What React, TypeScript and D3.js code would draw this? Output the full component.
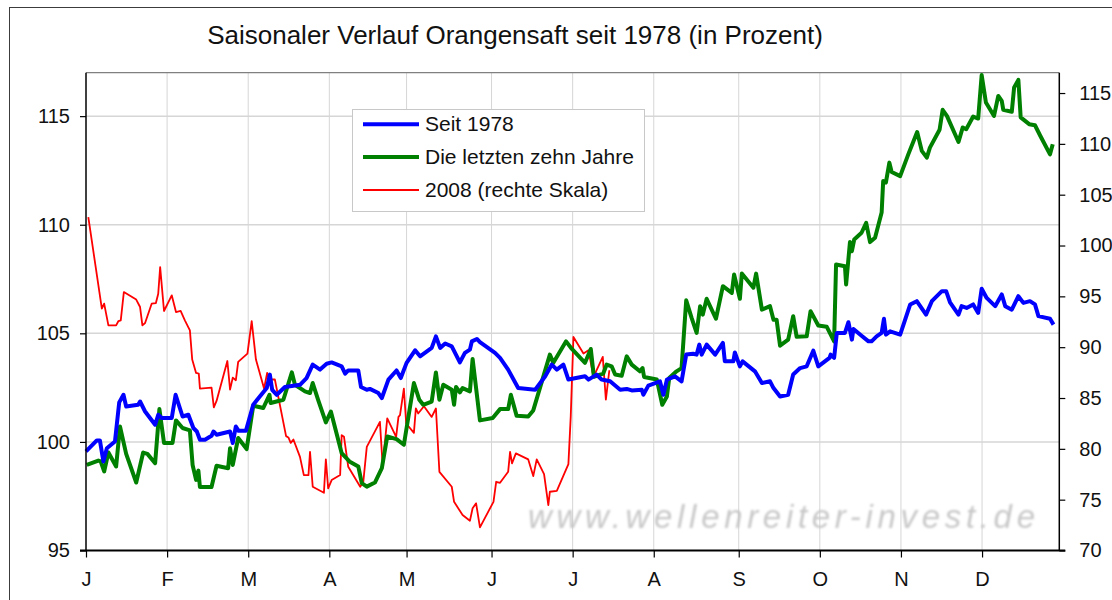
import { useEffect, useRef } from 'react';
import * as d3 from 'd3';

// Colors
const COLOR_SEIT = "#0000FF";
const COLOR_ZEHN = "#008000";
const COLOR_2008 = "#FF0000";
const COLOR_GRID = "#d6d6d6";
const FONT = "'Liberation Sans', Arial, sans-serif";

// Axis data
const MONTHS = ["J", "F", "M", "A", "M", "J", "J", "A", "S", "O", "N", "D"];
const MONTH_START = [0, 21, 42, 63, 83, 105, 126, 147, 169, 190, 211, 232];
const LAST_DAY = 252;
const LEFT_TICKS = [95, 100, 105, 110, 115];
const RIGHT_TICKS = [70, 75, 80, 85, 90, 95, 100, 105, 110, 115];

// Seit 1978 (left scale): [trading day, value]
const seit1978: [number, number][] = [
  [0, 99.56], [2.8, 100.07], [3.6, 100.07], [4.5, 99.1], [5.4, 99.71], [7.5, 100.02], [8.6, 101.82], [9.7, 102.17],
  [10.4, 101.63], [13.5, 101.71], [14.0, 101.86], [15.3, 101.4], [17.9, 100.79], [18.7, 101.25], [19.6, 101.1],
  [22.2, 101.1], [23.2, 102.17], [25.0, 101.17], [26.5, 101.25], [27.8, 100.64], [28.7, 100.48], [29.5, 100.1],
  [30.8, 100.1], [32.5, 100.28], [33.0, 100.48], [33.8, 100.33], [37.3, 100.48], [38.0, 99.95], [38.8, 100.71],
  [39.5, 100.51], [41.4, 100.51], [43.3, 101.71], [45.0, 102.09], [46.8, 102.48], [47.6, 103.1], [48.2, 102.4],
  [49.4, 102.17], [51.5, 102.53], [53.7, 102.59], [55.4, 102.63], [57.1, 102.94], [58.7, 103.56], [60.6, 103.33],
  [62.3, 103.6], [63.6, 103.66], [66.2, 103.48], [67.1, 103.14], [67.9, 103.29], [70.5, 103.29], [71.2, 102.53],
  [72.7, 102.4], [73.5, 102.44], [75.7, 102.25], [76.6, 102.02], [78.3, 102.87], [80.4, 103.29], [81.5, 102.94],
  [83.0, 103.64], [85.2, 104.22], [86.5, 103.94], [89.5, 104.33], [90.6, 104.86], [91.7, 104.33], [93.0, 104.53],
  [94.7, 104.4], [96.8, 103.66], [98.1, 104.1], [99.4, 104.25], [99.9, 104.63], [101.2, 104.74], [102.0, 104.59],
  [105.9, 104.1], [107.2, 103.87], [109.3, 103.33], [111.9, 102.48], [116.3, 102.4], [118.9, 103.02], [120.6, 103.56],
  [121.9, 103.33], [123.6, 103.56], [124.9, 102.87], [129.2, 103.02], [130.1, 102.87], [132.2, 103.1], [133.5, 102.87],
  [135.7, 102.79], [138.3, 102.4], [140.0, 102.44], [141.3, 102.37], [143.9, 102.4], [144.3, 102.17], [145.6, 102.59],
  [148.6, 102.79], [149.5, 102.17], [150.4, 102.87], [152.5, 103.02], [154.2, 102.79], [155.4, 104.02], [157.2, 104.06],
  [158.1, 104.02], [158.8, 104.48], [159.4, 104.02], [160.7, 104.48], [162.9, 104.02], [164.9, 104.56], [165.4, 103.71],
  [167.6, 103.71], [168.0, 104.12], [169.3, 103.48], [170.0, 103.71], [173.2, 103.25], [175.0, 102.71], [177.1, 102.79],
  [178.0, 102.48], [179.7, 102.09], [181.8, 102.17], [183.1, 103.1], [184.9, 103.4], [186.6, 103.48], [188.3, 104.2],
  [189.6, 103.48], [192.5, 103.87], [192.8, 104.02], [193.7, 103.87], [194.4, 105.02], [196.5, 105.02], [197.4, 105.51],
  [198.3, 104.71], [198.7, 105.2], [200.8, 104.89], [202.6, 104.63], [203.4, 104.63], [204.7, 104.86], [206.0, 105.02],
  [206.6, 105.67], [207.1, 104.94], [208.2, 105.09], [210.8, 104.94], [213.4, 106.33], [215.1, 106.48], [217.5, 105.86],
  [219.0, 106.48], [221.6, 106.94], [222.7, 106.94], [223.7, 106.43], [225.9, 105.86], [226.7, 106.25], [228.0, 106.17],
  [229.7, 106.33], [231.0, 105.94], [231.9, 107.05], [233.2, 106.63], [235.4, 106.25], [237.1, 106.79], [238.0, 106.25],
  [239.7, 106.09], [241.4, 106.71], [242.7, 106.4], [244.4, 106.48], [245.7, 106.33], [246.6, 105.79], [249.6, 105.67],
  [250.5, 105.4],
];

// Die letzten zehn Jahre (left scale)
const letzteZehn: [number, number][] = [
  [0.2, 98.94], [3.2, 99.14], [3.8, 99.1], [4.7, 98.64], [5.8, 99.51], [7.8, 98.87], [8.8, 100.71], [10.4, 99.45],
  [13.0, 98.13], [14.8, 99.51], [15.9, 99.45], [17.9, 99.02], [19.0, 101.51], [20.2, 99.95], [22.4, 99.95], [23.3, 100.99],
  [25.0, 100.64], [26.9, 100.53], [27.6, 98.94], [28.5, 98.25], [29.1, 98.68], [29.5, 97.92], [32.5, 97.92], [33.8, 98.9],
  [36.8, 98.79], [37.3, 99.71], [38.0, 98.94], [39.4, 100.18], [41.6, 99.67], [43.3, 101.67], [45.9, 101.56], [47.5, 102.17],
  [47.8, 101.79], [51.1, 101.94], [53.3, 103.2], [54.1, 102.63], [56.7, 102.33], [58.0, 102.25], [58.7, 102.71],
  [60.1, 101.94], [62.1, 100.9], [63.4, 101.4], [66.2, 99.48], [68.2, 99.1], [70.5, 98.87], [71.4, 98.1], [72.7, 97.94],
  [74.8, 98.13], [76.6, 98.79], [78.0, 100.25], [80.4, 100.13], [82.3, 99.87], [84.9, 102.71], [86.3, 101.94],
  [87.3, 101.71], [89.5, 101.86], [90.6, 103.2], [91.5, 101.94], [92.5, 102.63], [94.7, 102.4], [95.3, 101.71],
  [95.8, 102.53], [96.8, 102.28], [97.5, 102.48], [99.4, 102.33], [100.1, 103.82], [102.0, 100.99], [105.3, 101.1],
  [107.2, 101.51], [109.3, 101.51], [110.0, 102.17], [111.5, 101.2], [114.5, 101.17], [115.8, 101.45], [120.1, 104.02],
  [121.0, 103.64], [124.3, 104.63], [125.8, 104.28], [129.2, 103.64], [130.7, 104.28], [131.5, 103.0], [133.9, 103.14],
  [134.8, 103.56], [136.1, 103.48], [137.0, 103.1], [138.7, 103.05], [140.0, 103.94], [141.3, 103.56], [143.4, 103.25],
  [144.1, 103.4], [144.5, 102.99], [147.8, 102.87], [149.2, 101.71], [150.4, 102.09], [151.0, 102.94], [152.9, 103.25],
  [154.2, 103.4], [155.4, 106.52], [156.8, 105.71], [158.1, 105.02], [159.0, 106.25], [159.7, 105.86], [160.7, 106.59],
  [163.1, 105.67], [164.9, 107.17], [167.2, 106.86], [167.8, 107.71], [169.3, 106.59], [169.8, 107.75], [172.8, 107.1],
  [173.5, 107.75], [175.0, 106.09], [177.1, 106.25], [178.0, 105.63], [178.8, 105.63], [179.7, 104.43], [181.8, 104.71],
  [183.1, 105.79], [184.0, 104.84], [186.6, 104.86], [187.6, 106.02], [189.6, 105.36], [191.8, 105.3], [193.7, 104.63],
  [194.2, 108.17], [196.5, 108.09], [196.8, 107.25], [197.8, 109.2], [198.3, 108.78], [198.9, 109.32], [200.8, 109.63],
  [202.0, 110.09], [203.0, 109.2], [204.3, 109.4], [206.0, 110.56], [206.4, 112.01], [207.1, 111.94], [208.0, 112.86],
  [208.6, 112.43], [210.8, 112.24], [212.9, 113.24], [215.2, 114.27], [216.4, 113.4], [217.7, 113.09], [218.5, 113.55],
  [221.0, 114.37], [221.8, 115.29], [222.9, 115.01], [225.9, 113.81], [227.0, 114.48], [227.9, 114.4], [229.7, 114.98],
  [231.0, 114.89], [231.9, 116.89], [233.0, 115.63], [235.1, 115.01], [236.2, 115.93], [237.1, 115.7], [237.5, 115.29],
  [239.7, 115.2], [240.3, 116.32], [241.4, 116.67], [242.0, 114.94], [244.2, 114.63], [245.7, 114.58], [247.0, 114.12],
  [249.6, 113.24], [250.3, 113.71],
];

// 2008 (right scale)
const jahr2008: [number, number][] = [
  [0.6, 102.79], [4.1, 93.79], [4.7, 94.28], [5.8, 92.15], [7.8, 92.15], [8.4, 92.57], [9.0, 92.64], [9.8, 95.42],
  [13.0, 94.68], [14.0, 93.95], [14.6, 92.15], [15.3, 92.38], [17.0, 94.28], [18.1, 94.34], [18.7, 95.26], [19.2, 97.88],
  [20.2, 93.56], [22.2, 95.1], [23.3, 93.46], [24.5, 93.56], [25.6, 92.64], [26.9, 91.66], [27.5, 88.78], [28.5, 87.47],
  [29.2, 87.41], [29.5, 85.93], [32.5, 86.03], [33.1, 84.07], [33.8, 84.71], [36.6, 88.64], [37.3, 85.83], [38.0, 87.01],
  [38.8, 86.75], [39.4, 88.55], [41.8, 89.37], [42.9, 92.57], [44.0, 88.78], [46.1, 85.93], [46.9, 87.47], [47.5, 86.82],
  [48.9, 86.82], [51.8, 81.25], [52.4, 81.12], [53.0, 80.59], [53.7, 80.92], [55.4, 79.21], [56.4, 77.42], [57.6, 77.42],
  [58.0, 79.71], [58.7, 76.27], [61.6, 75.68], [62.1, 78.96], [62.7, 76.11], [63.6, 76.93], [65.8, 77.42], [66.2, 81.35],
  [66.8, 81.18], [67.9, 78.23], [71.0, 76.27], [71.8, 76.76], [72.7, 80.2], [76.1, 82.65], [76.8, 78.4], [78.0, 82.99],
  [80.3, 81.18], [80.9, 83.14], [81.3, 83.31], [82.3, 85.93], [82.9, 82.49], [84.9, 81.57], [85.4, 83.97], [86.0, 83.48],
  [87.5, 84.19], [89.5, 83.14], [90.6, 83.97], [91.5, 77.74], [94.7, 76.27], [95.3, 74.79], [97.5, 73.49], [99.4, 72.93],
  [100.1, 74.15], [101.0, 74.64], [102.0, 72.28], [105.5, 74.79], [106.2, 76.76], [107.2, 76.66], [109.3, 77.74],
  [109.8, 79.71], [110.3, 78.57], [111.3, 79.55], [114.5, 78.96], [115.8, 77.32], [116.7, 78.96], [118.6, 77.51],
  [119.7, 74.47], [120.1, 75.78], [121.9, 75.87], [124.9, 78.5], [125.5, 83.14], [126.2, 91.0], [128.8, 89.37],
  [130.1, 89.69], [131.4, 87.07], [133.8, 89.04], [134.6, 84.85], [135.5, 87.73],
];

const LEGEND = [
  { label: "Seit 1978", color: COLOR_SEIT, width: 4 },
  { label: "Die letzten zehn Jahre", color: COLOR_ZEHN, width: 4 },
  { label: "2008 (rechte Skala)", color: COLOR_2008, width: 2 },
];

export default function App() {
  const ref = useRef<SVGSVGElement>(null);

  useEffect(() => {
    if (!ref.current) return;
    const svg = d3.select(ref.current);
    svg.selectAll("*").remove();

    const left = 86, right = 1059.3, top = 72.7, bottom = 550.5;

    const x = d3.scaleLinear().domain([0, LAST_DAY]).range([left, right]);
    const yL = d3.scaleLinear().domain([95, 117]).range([bottom, top]);
    const yR = d3.scaleLinear().domain([70, 117]).range([bottom, top]);

    // outer frame
    svg.append("rect")
      .attr("x", 9.5).attr("y", 7.5)
      .attr("width", 1200).attr("height", 700)
      .attr("fill", "white").attr("stroke", "#3c3c3c").attr("stroke-width", 1);

    // title
    svg.append("text")
      .attr("x", 515).attr("y", 44)
      .attr("text-anchor", "middle")
      .attr("font-family", FONT).attr("font-size", 26)
      .attr("fill", "#111")
      .text("Saisonaler Verlauf Orangensaft seit 1978 (in Prozent)");

    // grid
    const grid = svg.append("g").attr("stroke", COLOR_GRID);
    grid.selectAll("line.v")
      .data(MONTH_START.slice(1))
      .join("line")
      .attr("x1", (d) => x(d)).attr("x2", (d) => x(d))
      .attr("y1", top).attr("y2", bottom)
      .attr("stroke-width", 1);
    grid.selectAll("line.h")
      .data(LEFT_TICKS.slice(1))
      .join("line")
      .attr("x1", left).attr("x2", right)
      .attr("y1", (d) => yL(d)).attr("y2", (d) => yL(d))
      .attr("stroke-width", 1.5);

    // watermark
    const defs = svg.append("defs");
    defs.append("filter").attr("id", "soft")
      .append("feGaussianBlur").attr("stdDeviation", 1);
    svg.append("text")
      .attr("x", 528).attr("y", 528)
      .attr("font-family", FONT).attr("font-style", "italic")
      .attr("font-size", 33)
      .attr("fill", "#c8c8c8")
      .attr("textLength", 507).attr("lengthAdjust", "spacing")
      .attr("filter", "url(#soft)")
      .text("www.wellenreiter-invest.de");

    // plot border
    svg.append("line")
      .attr("x1", left).attr("x2", right).attr("y1", top).attr("y2", top)
      .attr("stroke", "#808080").attr("stroke-width", 1.2);

    // series
    const lineL = d3.line<[number, number]>().x((d) => x(d[0])).y((d) => yL(d[1]));
    const lineR = d3.line<[number, number]>().x((d) => x(d[0])).y((d) => yR(d[1]));

    svg.append("path").datum(jahr2008)
      .attr("d", lineR).attr("fill", "none")
      .attr("stroke", COLOR_2008).attr("stroke-width", 1.8).attr("stroke-linejoin", "round");
    svg.append("path").datum(letzteZehn)
      .attr("d", lineL).attr("fill", "none")
      .attr("stroke", COLOR_ZEHN).attr("stroke-width", 4).attr("stroke-linejoin", "round");
    svg.append("path").datum(seit1978)
      .attr("d", lineL).attr("fill", "none")
      .attr("stroke", COLOR_SEIT).attr("stroke-width", 4).attr("stroke-linejoin", "round");

    // axes
    const axisFont = (g: any) => {
      g.selectAll("text").attr("font-family", FONT).attr("font-size", 20).attr("fill", "#111");
      g.selectAll("line").attr("stroke", "#000").attr("stroke-width", 1.2);
    };

    const gL = svg.append("g").attr("transform", `translate(${left},0)`)
      .call(d3.axisLeft(yL).tickValues(LEFT_TICKS).tickSize(6).tickPadding(10).tickFormat(d3.format("d")));
    gL.select(".domain").remove();
    axisFont(gL);

    const gR = svg.append("g").attr("transform", `translate(${right},0)`)
      .call(d3.axisRight(yR).tickValues(RIGHT_TICKS).tickSize(6).tickPadding(14).tickFormat(d3.format("d")));
    gR.select(".domain").remove();
    axisFont(gR);

    const gB = svg.append("g").attr("transform", `translate(0,${bottom})`)
      .call(d3.axisBottom(x).tickValues(MONTH_START).tickSize(7).tickPadding(14)
        .tickFormat((_d, i) => MONTHS[i]));
    gB.select(".domain").remove();
    axisFont(gB);

    svg.append("line").attr("x1", left).attr("x2", left).attr("y1", top).attr("y2", bottom)
      .attr("stroke", "#000").attr("stroke-width", 1.5);
    svg.append("line").attr("x1", right).attr("x2", right).attr("y1", top).attr("y2", bottom)
      .attr("stroke", "#000").attr("stroke-width", 1.5);
    svg.append("line").attr("x1", left - 6).attr("x2", right + 6).attr("y1", bottom).attr("y2", bottom)
      .attr("stroke", "#000").attr("stroke-width", 2);

    // legend
    const lg = svg.append("g").attr("transform", "translate(352,109)");
    lg.append("rect").attr("x", 0.5).attr("y", 0.5).attr("width", 292).attr("height", 102)
      .attr("fill", "white").attr("stroke", "#c8c8c8");
    LEGEND.forEach((item, i) => {
      const yy = 15.3 + i * 32.8;
      lg.append("line").attr("x1", 11).attr("x2", 67).attr("y1", yy).attr("y2", yy)
        .attr("stroke", item.color).attr("stroke-width", item.width);
      lg.append("text").attr("x", 73).attr("y", yy + 7)
        .attr("font-family", FONT).attr("font-size", 21).attr("fill", "#111")
        .text(item.label);
    });
  }, []);

  return (
    <svg
      ref={ref}
      width={1112}
      height={600}
      style={{ position: 'absolute', left: 0, top: 0, background: 'white' }}
    />
  );
}
